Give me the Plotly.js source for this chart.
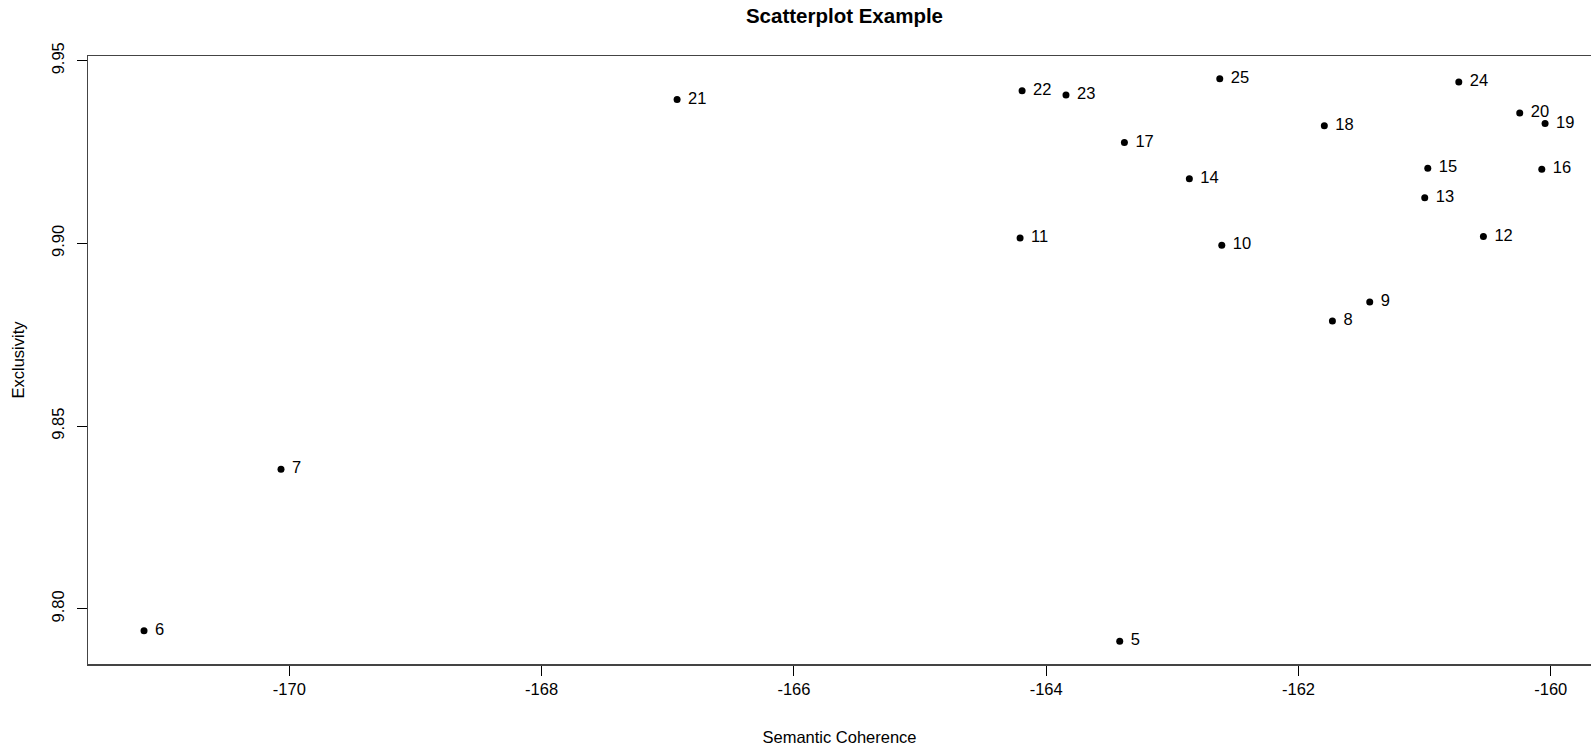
<!DOCTYPE html>
<html>
<head>
<meta charset="utf-8">
<script src="https://cdn.plot.ly/plotly-3.0.1.min.js"></script>
<style>
html, body { margin: 0; padding: 0; overflow: hidden; background: #fff; }
#chart { width: 1591px; height: 746px; }
</style>
</head>
<body>
<div id="chart"></div>
<script>
// Topic labels (number of topics K)
const topicLabels = ["5","6","7","8","9","10","11","12","13","14","15","16","17","18","19","20","21","22","23","24","25"];
// Semantic coherence (x)
const semanticCoherence = [-163.417, -171.152, -170.066, -161.731, -161.435, -162.608, -164.207, -160.534, -160.999, -162.865, -160.975, -160.071, -163.380, -161.795, -160.045, -160.246, -166.926, -164.191, -163.843, -160.729, -162.624];
// Exclusivity (y)
const exclusivity = [9.7911, 9.7940, 9.8382, 9.8788, 9.8840, 9.8995, 9.9015, 9.9019, 9.9125, 9.9177, 9.9206, 9.9203, 9.9276, 9.9322, 9.9328, 9.9357, 9.9394, 9.9418, 9.9406, 9.9442, 9.9451];
// Tick values
const xTicks = [-170, -168, -166, -164, -162, -160];
const yTicks = [9.80, 9.85, 9.90, 9.95];

const FONT = "Liberation Sans, Arial, Helvetica, sans-serif";

const points = {
  x: semanticCoherence,
  y: exclusivity,
  type: "scatter",
  mode: "markers",
  marker: { color: "#000", size: 7 },
  hoverinfo: "x+y",
  cliponaxis: false,
  showlegend: false
};

const labels = {
  x: semanticCoherence,
  y: exclusivity,
  text: topicLabels,
  type: "scatter",
  mode: "markers+text",
  textposition: "middle right",
  textfont: { family: FONT, size: 16.5, color: "#000" },
  marker: { color: "rgba(0,0,0,0)", size: 16 },
  hoverinfo: "skip",
  cliponaxis: false,
  showlegend: false
};

const layout = {
  width: 1591,
  height: 746,
  margin: { l: 88, r: 0, t: 56, b: 82, pad: 0 },
  paper_bgcolor: "#fff",
  plot_bgcolor: "#fff",
  font: { family: FONT, size: 16, color: "#000" },
  title: {
    text: "Scatterplot Example",
    font: { family: FONT, size: 20.5, color: "#000", weight: 700 },
    x: 0.5033, xref: "paper", xanchor: "center",
    y: 1 - 16 / 746, yref: "container", yanchor: "middle"
  },
  xaxis: {
    range: [-171.596, -159.681],
    tickvals: xTicks,
    ticktext: xTicks.map(String),
    ticks: "outside", ticklen: 10, tickwidth: 1, tickcolor: "#000",
    showgrid: false, zeroline: false,
    showline: true, mirror: true, linecolor: "#444", linewidth: 1.5,
    tickfont: { family: FONT, size: 16.5, color: "#000" },
    automargin: false,
    title: { text: "Semantic Coherence", font: { family: FONT, size: 16.5, color: "#000" }, standoff: 34 }
  },
  yaxis: {
    range: [9.7849, 9.9513],
    tickvals: yTicks,
    ticktext: yTicks.map(v => v.toFixed(2)),
    tickangle: -90,
    ticklabelstandoff: 6,
    ticks: "outside", ticklen: 10, tickwidth: 1, tickcolor: "#000",
    showgrid: false, zeroline: false,
    showline: true, mirror: false, linecolor: "#444", linewidth: 1.5,
    tickfont: { family: FONT, size: 16.5, color: "#000" },
    automargin: false,
    title: { text: "Exclusivity", font: { family: FONT, size: 16.5, color: "#000" }, standoff: 20 }
  }
};

Plotly.newPlot("chart", [points, labels], layout, { displayModeBar: false, staticPlot: true });
</script>
</body>
</html>
